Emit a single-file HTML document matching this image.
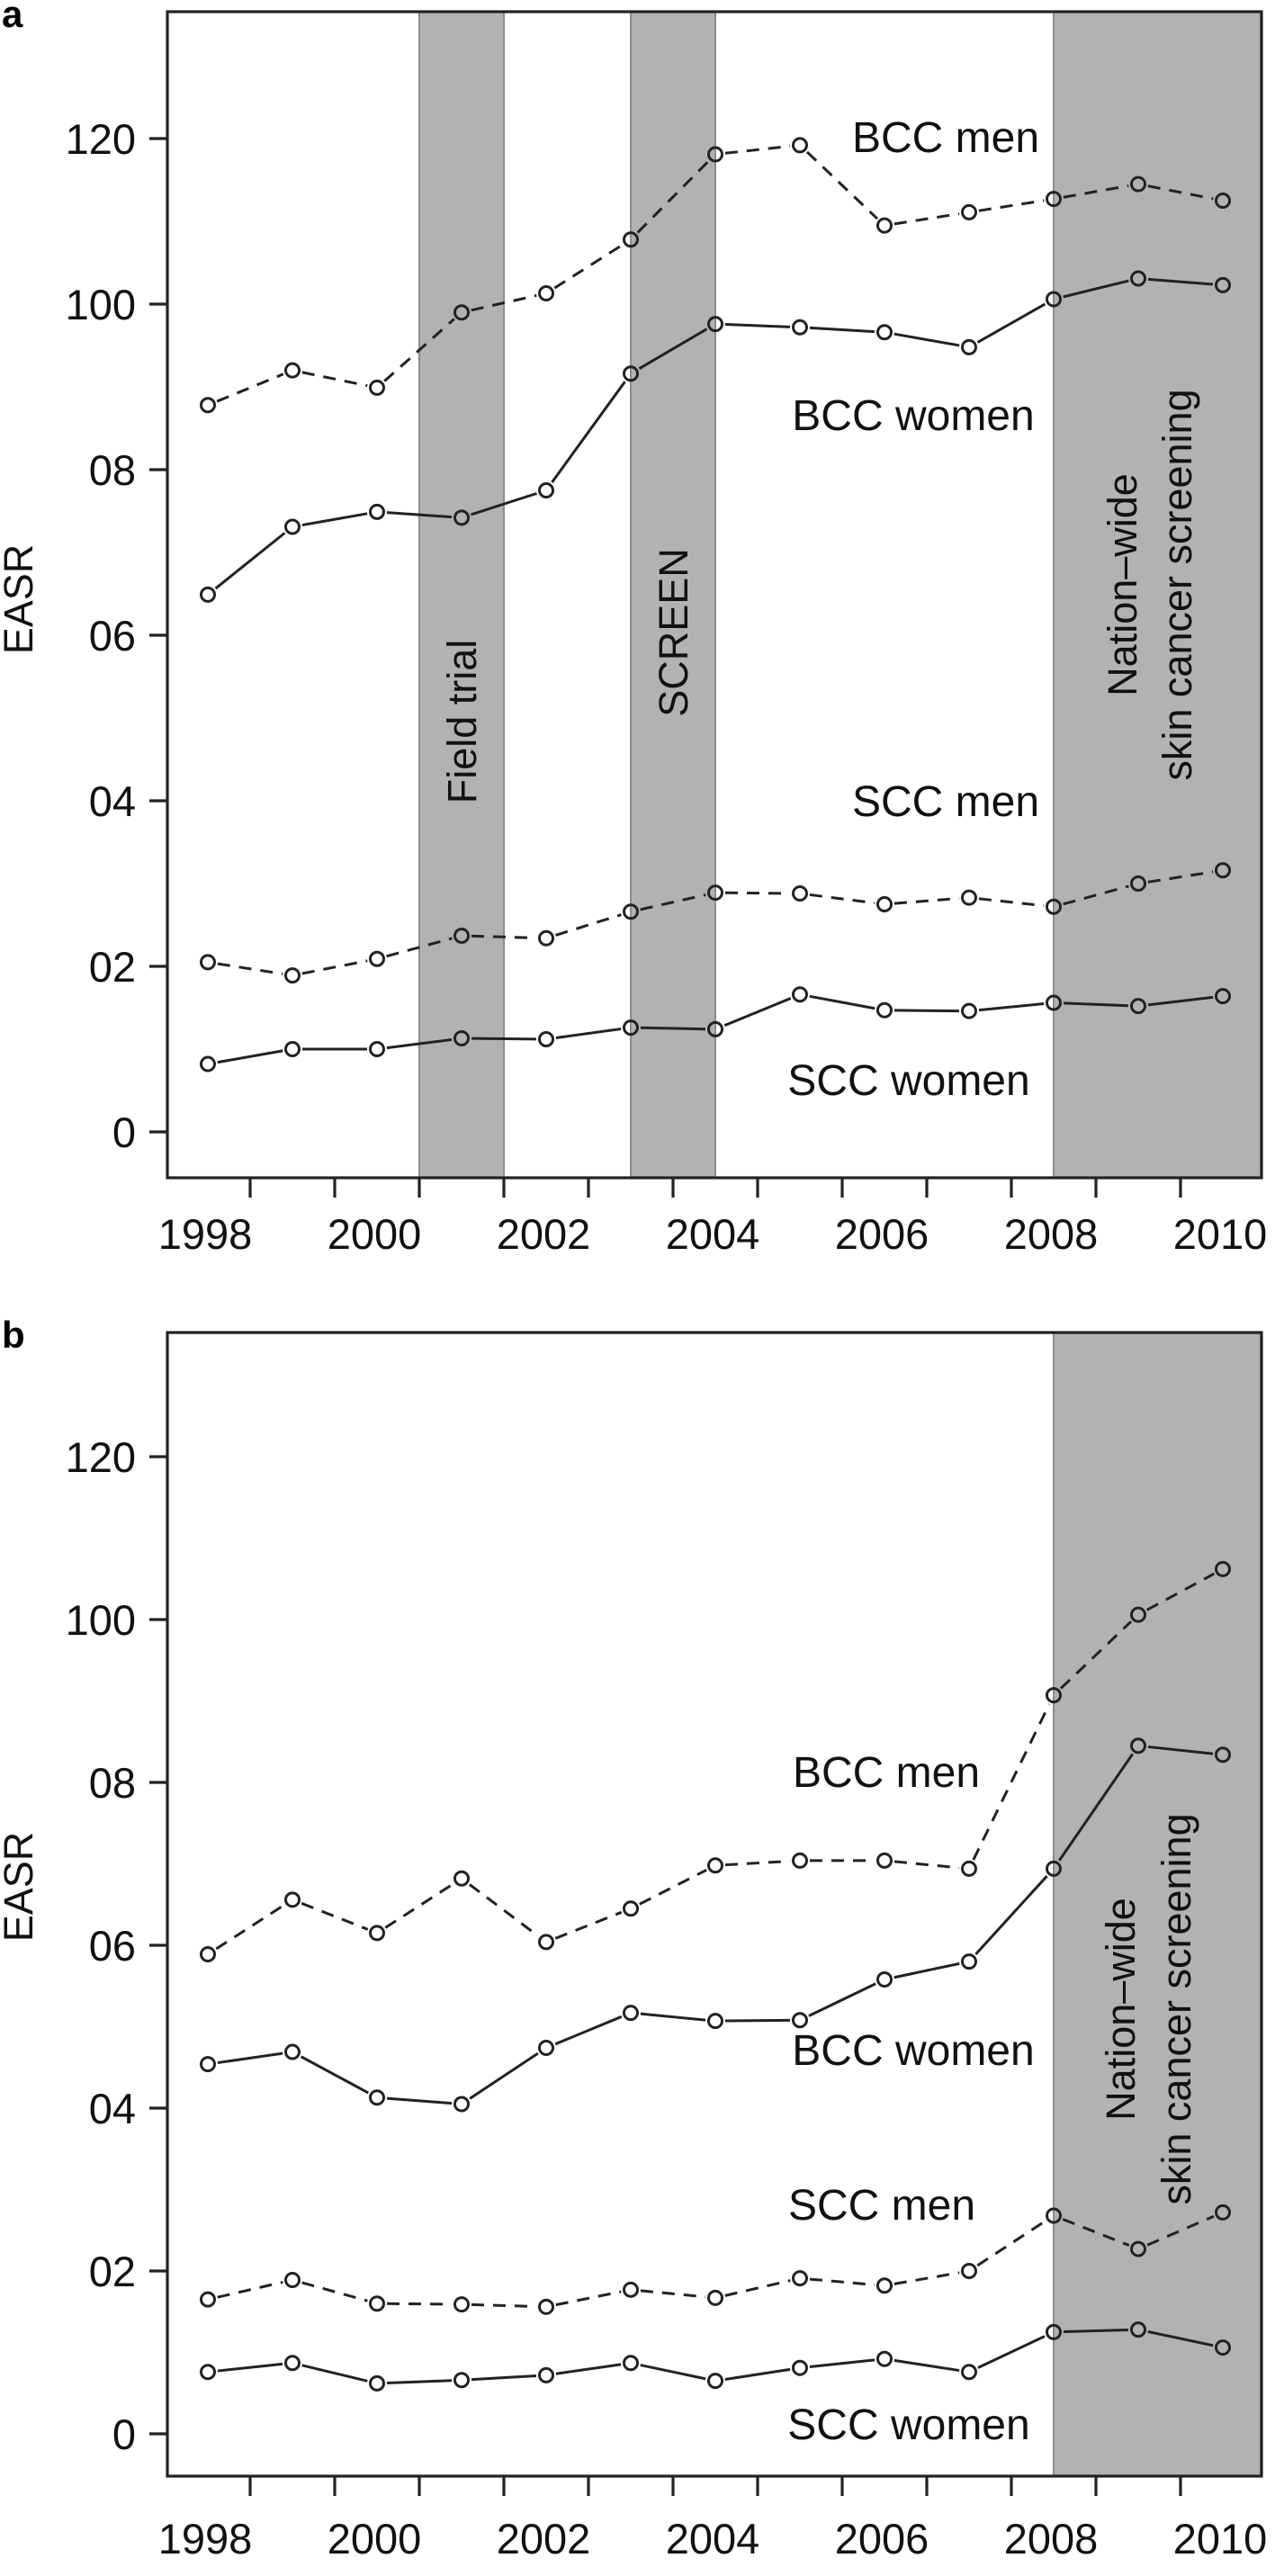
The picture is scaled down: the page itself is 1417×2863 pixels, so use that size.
<!DOCTYPE html>
<html><head><meta charset="utf-8"><style>
html,body{margin:0;padding:0;background:#fff;}
svg{display:block;font-family:"Liberation Sans",Arial,sans-serif;}
</style></head><body>
<svg id="chart" width="1417" height="2863" viewBox="0 0 1417 2863" xmlns="http://www.w3.org/2000/svg"></svg>
<script>
const years = [1998,1999,2000,2001,2002,2003,2004,2005,2006,2007,2008,2009,2010];
const yTickValues = [0,20,40,60,80,100,120];
const yTickLabels = ["0","02","04","06","08","100","120"];
const xLabelYears = [1998,2000,2002,2004,2006,2008,2010];
const aBccMen   = [87.8,92.0,89.9,99.0,101.3,107.8,118.1,119.2,109.5,111.1,112.7,114.5,112.5];
const aBccWomen = [64.9,73.1,74.9,74.2,77.5,91.6,97.6,97.2,96.6,94.8,100.6,103.1,102.3];
const aSccMen   = [20.5,18.9,20.9,23.7,23.4,26.6,28.9,28.8,27.5,28.3,27.2,30.0,31.6];
const aSccWomen = [8.2,10.0,10.0,11.3,11.2,12.6,12.4,16.6,14.7,14.6,15.6,15.2,16.4];
const bBccMen   = [58.9,65.6,61.5,68.2,60.4,64.5,69.8,70.4,70.4,69.4,90.7,100.6,106.2];
const bBccWomen = [45.4,46.9,41.3,40.5,47.4,51.7,50.7,50.8,55.8,58.0,69.4,84.5,83.4];
const bSccMen   = [16.5,18.9,16.0,15.9,15.6,17.7,16.7,19.1,18.2,20.0,26.8,22.7,27.2];
const bSccWomen = [7.6,8.7,6.2,6.6,7.2,8.7,6.5,8.1,9.2,7.6,12.5,12.8,10.6];
const aPeriods = [[2000.5,2001.5],[2003,2004],[2008,2011]];
const bPeriods = [[2008,2011]];

const NS="http://www.w3.org/2000/svg";
const svg=document.getElementById('chart');
function mk(tag,attrs,parent){const e=document.createElementNS(NS,tag);for(const k in attrs)e.setAttribute(k,attrs[k]);(parent||svg).appendChild(e);return e;}

function panel(cfg){
  const g=mk('g',{});
  
  
  const L=186,R=1402,T=cfg.top,B=cfg.bottom;
  const xs=y=>231+(y-1998)*94.0;
  const ys=v=>cfg.y0-v*cfg.k;
  cfg.periods.forEach((p,i)=>{
    const x1=xs(p[0]),x2=Math.min(xs(p[1]),R);
    const r=mk('rect',{x:x1,y:T,width:x2-x1,height:B-T,fill:'#b2b2b2',stroke:'#8c8c8c','stroke-width':2},g);
    
    
  });
  const box=mk('rect',{x:L,y:T,width:R-L,height:B-T,fill:'none',stroke:'#222','stroke-width':3.2},g);
  
  
  yTickValues.forEach((v,i)=>{
    mk('line',{x1:L-20,x2:L,y1:ys(v),y2:ys(v),stroke:'#222','stroke-width':3.2},g);
    const t=mk('text',{x:L-35,y:ys(v)+17,'text-anchor':'end','font-size':47,fill:'#111'},g);
    t.textContent=yTickLabels[i];
    
    
  });
  for(let y=1998.5;y<2010;y+=1){
    mk('line',{x1:xs(y),x2:xs(y),y1:B,y2:B+22,stroke:'#222','stroke-width':3.2},g);
  }
  xLabelYears.forEach(y=>{
    const t=mk('text',{x:xs(y)-3,y:cfg.xLabY,'text-anchor':'middle','font-size':47,fill:'#111'},g);
    t.textContent=y;
    
    
  });
  const yt=mk('text',{x:0,y:0,'text-anchor':'middle','font-size':45,fill:'#111',transform:`translate(36,${cfg.yTitleY}) rotate(-90)`},g);
  yt.textContent='EASR';
  
  
  const lt=mk('text',{x:2,y:cfg.top+17,'font-size':42,'font-weight':'bold',fill:'#000'},g);
  lt.textContent=cfg.letter;
  
  
  cfg.series.forEach(s=>{
    const sg=mk('g',{},g);
    
    
    const gap=11;
    for(let i=0;i<years.length-1;i++){
      const x1=xs(years[i]),y1=ys(s.values[i]),x2=xs(years[i+1]),y2=ys(s.values[i+1]);
      const d=Math.hypot(x2-x1,y2-y1);if(d<=2*gap)continue;
      const ux=(x2-x1)/d,uy=(y2-y1)/d;
      mk('line',{x1:x1+ux*gap,y1:y1+uy*gap,x2:x2-ux*gap,y2:y2-uy*gap,stroke:'#222','stroke-width':3,'stroke-dasharray':s.dash?'14,10':'none'},sg);
    }
    years.forEach((yr,i)=>{
      const c=mk('circle',{cx:xs(yr),cy:ys(s.values[i]),r:7.5,fill:'none',stroke:'#222','stroke-width':3},sg);
      
      
    });
  });
  cfg.labels.forEach(l=>{
    const t=mk('text',{x:l[1],y:l[2]+17,'text-anchor':'middle','font-size':48,fill:'#111'},g);
    t.textContent=l[0];
    
    
  });
  cfg.vlabels.forEach(l=>{
    const t=mk('text',{x:0,y:0,'text-anchor':'middle','font-size':45,fill:'#111',transform:`translate(${l[1]+16},${l[2]}) rotate(-90)`},g);
    t.textContent=l[0];
    
    
  });
}

panel({letter:'a',top:13,bottom:1309,y0:1258,k:9.2,xLabY:1388,yTitleY:666,periods:aPeriods,
  series:[{name:'bcc-men-line',values:aBccMen,dash:true},{name:'bcc-women-line',values:aBccWomen,dash:false},
          {name:'scc-men-line',values:aSccMen,dash:true},{name:'scc-women-line',values:aSccWomen,dash:false}],
  labels:[['BCC men',1051,152],['BCC women',1015,461],['SCC men',1051,890],['SCC women',1010,1200]],
  vlabels:[['Field trial',513,802],['SCREEN',748,703],['Nation\u2013wide',1247,650],['skin cancer screening',1308,650]]});

panel({letter:'b',top:1481,bottom:2752,y0:2705,k:9.05,xLabY:2838,yTitleY:2097,periods:bPeriods,
  series:[{name:'bcc-men-line',values:bBccMen,dash:true},{name:'bcc-women-line',values:bBccWomen,dash:false},
          {name:'scc-men-line',values:bSccMen,dash:true},{name:'scc-women-line',values:bSccWomen,dash:false}],
  labels:[['BCC men',985,1969],['BCC women',1015,2278],['SCC men',980,2450],['SCC women',1010,2694]],
  vlabels:[['Nation\u2013wide',1245,2233],['skin cancer screening',1307,2233]]});
</script>
</body></html>
